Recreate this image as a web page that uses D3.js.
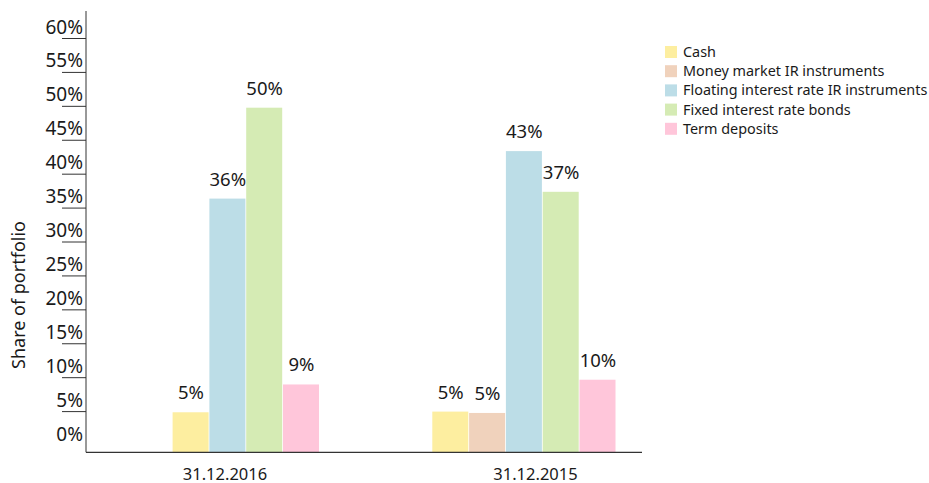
<!DOCTYPE html>
<html>
<head>
<meta charset="utf-8">
<script src="https://cdn.jsdelivr.net/npm/d3@7"></script>
<style>
  body { margin: 0; background: #fff; }
  text { font-family: "Noto Sans", sans-serif; fill: #1a1a1a; }
</style>
</head>
<body>
<div id="chart"></div>
<script>
// 数据
const categories = ["31.12.2016", "31.12.2015"];
const seriesNames = ["Cash", "Money market IR instruments", "Floating interest rate IR instruments", "Fixed interest rate bonds", "Term deposits"];
const seriesColors = ["#fdeea0", "#f0d2bc", "#bcdde7", "#d5ebb4", "#ffc6da"];
// 每个日期的各项占比 (%)
const values2016 = [4.9, 0, 36.4, 49.8, 9.0];
const values2015 = [5.0, 4.8, 43.4, 37.4, 9.7];
const yTicks = [0, 5, 10, 15, 20, 25, 30, 35, 40, 45, 50, 55, 60];

const width = 929, height = 483;

const svg = d3.select("#chart").append("svg")
    .attr("width", width)
    .attr("height", height);

// y 轴：横轴位于 0 之下一点
const y = d3.scaleLinear().domain([-1, 60]).range([452.3, 38.5]);
const axisX = 86, axisRight = 642;

// 分组中心（柱子 / 标签）
const xBars = d3.scalePoint().domain(categories).range([246.2, 524.3]);
const xLabels = d3.scalePoint().domain(categories).range([225, 535.5]);
const barW = 36.8;

const data = [values2016, values2015];

categories.forEach((cat, ci) => {
    const vals = data[ci];
    const shown = vals.map((v, i) => ({ v, i })).filter(d => d.v > 0);
    const start = xBars(cat) - shown.length * barW / 2;
    const g = svg.append("g");
    g.selectAll("rect")
        .data(shown)
        .enter()
        .append("rect")
        .attr("x", (d, k) => start + k * barW)
        .attr("y", d => y(d.v))
        .attr("width", barW - 0.8)
        .attr("height", d => y(-1) - y(d.v))
        .attr("fill", d => seriesColors[d.i]);
    g.selectAll("text")
        .data(shown)
        .enter()
        .append("text")
        .attr("x", (d, k) => start + k * barW + barW / 2)
        .attr("y", d => y(d.v) - 13)
        .attr("text-anchor", "middle")
        .style("font-size", "18.5px")
        .text(d => Math.round(d.v) + "%");
    svg.append("text")
        .attr("x", xLabels(cat))
        .attr("y", 479.5)
        .attr("text-anchor", "middle")
        .style("font-size", "16.5px")
        .text(cat);
});

// 坐标轴
svg.append("line")
    .attr("x1", axisX).attr("x2", axisX)
    .attr("y1", 11).attr("y2", y(-1))
    .attr("stroke", "#333").attr("stroke-width", 1);
svg.append("line")
    .attr("x1", axisX).attr("x2", axisRight)
    .attr("y1", y(-1)).attr("y2", y(-1))
    .attr("stroke", "#333").attr("stroke-width", 1.3);

// y 刻度：文字在刻度线之上
const tickG = svg.append("g");
yTicks.forEach(t => {
    if (t > 0) {
        tickG.append("line")
            .attr("x1", 62).attr("x2", axisX)
            .attr("y1", y(t)).attr("y2", y(t))
            .attr("stroke", "#333").attr("stroke-width", 1);
    }
    tickG.append("text")
        .attr("x", 83)
        .attr("y", y(t) - 5)
        .attr("text-anchor", "end")
        .style("font-size", "19px")
        .text(t + "%");
});

// y 轴标题
svg.append("text")
    .attr("transform", "translate(25, 295) rotate(-90)")
    .attr("text-anchor", "middle")
    .style("font-size", "18px")
    .text("Share of portfolio");

// 图例
const legend = svg.append("g").attr("transform", "translate(665, 46)");
seriesNames.forEach((name, i) => {
    legend.append("rect")
        .attr("x", 0).attr("y", i * 19.2)
        .attr("width", 12).attr("height", 12)
        .attr("fill", seriesColors[i]);
    legend.append("text")
        .attr("x", 18).attr("y", i * 19.2 + 11)
        .style("font-size", "14.4px")
        .text(name);
});
</script>
</body>
</html>
